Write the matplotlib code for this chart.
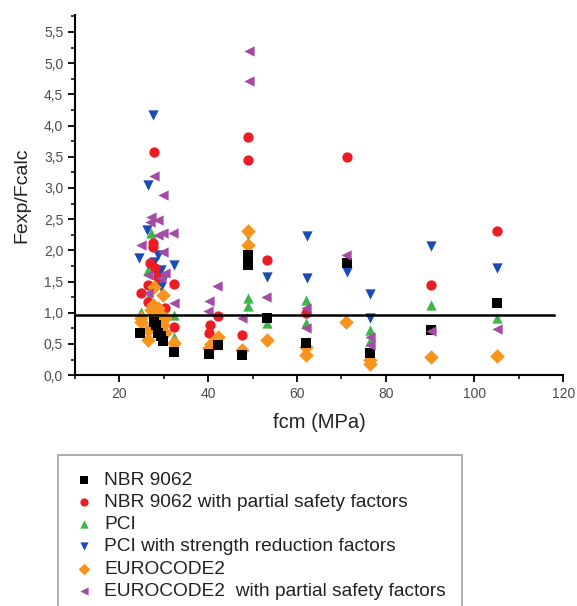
import matplotlib
matplotlib.use("Agg")
import matplotlib.pyplot as plt
from matplotlib.ticker import MultipleLocator, FuncFormatter

plt.rcParams['font.family'] = ['Liberation Sans', 'DejaVu Sans']

# NBR 9062
nbr_x = [24.6, 27.9, 28.3, 28.7, 29.4, 29.8, 32.3, 40.1, 42.2, 47.7, 49.0, 49.0, 53.3, 62.1, 71.2, 76.5, 90.2, 105.1]
nbr_y = [0.67, 0.85, 0.80, 0.67, 0.62, 0.54, 0.37, 0.34, 0.48, 0.32, 1.93, 1.76, 0.92, 0.51, 1.79, 0.35, 0.72, 1.16]

# NBR 9062 with partial safety factors
nbrp_x = [27.9, 27.5, 27.5, 28.0, 28.7, 26.4, 32.3, 24.8, 26.4, 30.2, 32.3, 29.0, 26.8,
          40.4, 40.3, 42.2, 47.7, 49.0, 49.0, 53.3, 62.1, 71.2, 90.2, 105.1]
nbrp_y = [3.57, 2.11, 2.06, 1.71, 1.58, 1.44, 1.46, 1.31, 1.17, 1.07, 0.77, 0.95, 1.80,
          0.80, 0.68, 0.95, 0.64, 3.82, 3.45, 1.84, 0.99, 3.50, 1.44, 2.31]

# PCI
pci_x = [27.2, 26.4, 26.4, 24.9, 28.7, 32.4, 32.4, 29.5, 27.9, 26.8,
         49.0, 49.0, 53.3, 62.1, 62.1, 71.0, 76.5, 76.5, 90.2, 105.1]
pci_y = [2.27, 1.68, 1.23, 1.01, 0.88, 0.96, 0.61, 0.80, 1.00, 1.20,
         1.23, 1.11, 0.84, 1.20, 0.83, 0.90, 0.72, 0.55, 1.13, 0.92]

# PCI with strength reduction factors
pcis_x = [27.5, 26.4, 26.2, 24.5, 28.7, 27.9, 32.3, 29.4, 29.8, 29.4, 28.4,
          49.0, 53.3, 62.3, 62.3, 71.2, 76.5, 76.5, 90.2, 105.1]
pcis_y = [4.17, 3.05, 2.33, 1.87, 1.92, 1.82, 1.76, 1.68, 1.52, 1.42, 1.60,
          2.25, 1.57, 2.23, 1.55, 1.66, 1.30, 0.91, 2.07, 1.71]

# EUROCODE2
ec_x = [27.9, 29.8, 27.5, 28.7, 29.0, 24.9, 28.3, 30.2, 26.4, 30.2, 26.4, 32.3, 29.4, 27.2, 29.8, 24.9,
        40.7, 40.1, 42.3, 47.7, 49.0, 49.0, 53.3, 62.1, 62.1, 71.0, 76.5, 76.5, 90.2, 105.1]
ec_y = [1.42, 1.28, 1.12, 1.08, 1.00, 0.92, 0.95, 0.92, 0.72, 0.67, 0.57, 0.51, 0.85, 1.05, 0.80, 0.85,
        0.50, 0.43, 0.61, 0.40, 2.31, 2.08, 0.57, 0.45, 0.32, 0.85, 0.24, 0.18, 0.29, 0.31]

# EUROCODE2 with partial safety factors
ecp_x = [27.9, 29.8, 27.2, 28.7, 26.8, 28.7, 29.8, 32.0, 24.9, 29.8, 30.2, 26.4, 26.4, 32.3, 29.4,
         39.9, 40.3, 42.0, 47.7, 49.3, 49.3, 53.1, 62.1, 62.1, 71.1, 76.5, 76.5, 90.2, 105.1]
ecp_y = [3.19, 2.88, 2.54, 2.48, 2.46, 2.24, 2.27, 2.27, 2.08, 1.98, 1.63, 1.60, 1.31, 1.15, 1.55,
         1.03, 1.19, 1.43, 0.91, 5.20, 4.71, 1.26, 1.08, 0.76, 1.93, 0.61, 0.48, 0.70, 0.74]

ref_x = [10, 118]
ref_y = 0.97

fig = plt.figure(figsize=(5.77, 6.06), dpi=100)
ax = fig.add_axes([0.130, 0.381, 0.846, 0.594])

ms = 55
ax.scatter(pcis_x, pcis_y, s=ms, marker='v', color='#1b4bb5', linewidths=0, label='PCI with strength reduction factors', zorder=3)
ax.scatter(pci_x, pci_y, s=ms, marker='^', color='#3db54a', linewidths=0, label='PCI', zorder=3)
ax.scatter(nbrp_x, nbrp_y, s=ms, marker='o', color='#ec1c24', linewidths=0, label='NBR 9062 with partial safety factors', zorder=3)
ax.scatter(ec_x, ec_y, s=ms, marker='D', color='#f7941d', linewidths=0, label='EUROCODE2', zorder=3)
ax.scatter(nbr_x, nbr_y, s=ms * 0.8, marker='s', color='black', linewidths=0, label='NBR 9062', zorder=3)
ax.scatter(ecp_x, ecp_y, s=ms, marker='<', color='#a44ba6', linewidths=0, label='EUROCODE2  with partial safety factors', zorder=3)

ax.plot(ref_x, [ref_y, ref_y], color='black', lw=1.8, zorder=4)

ax.set_xlim(10, 120)
ax.set_ylim(0, 5.77)
ax.xaxis.set_major_locator(MultipleLocator(20))
ax.xaxis.set_minor_locator(MultipleLocator(10))
ax.yaxis.set_major_locator(MultipleLocator(0.5))
ax.yaxis.set_minor_locator(MultipleLocator(0.25))
ax.yaxis.set_major_formatter(FuncFormatter(lambda v, p: ('%.1f' % v).replace('.', ',')))

for s in ['top', 'right']:
    ax.spines[s].set_visible(False)
for s in ['left', 'bottom']:
    ax.spines[s].set_linewidth(1.5)
ax.tick_params(which='major', direction='out', length=5, width=1.3, labelsize=10, labelcolor='#4d4d4d')
ax.tick_params(which='minor', direction='out', length=3, width=1.1)

ax.set_xlabel('fcm (MPa)', fontsize=14.5, color='#222222', labelpad=9)
ax.set_ylabel('Fexp/Fcalc', fontsize=14, color='#222222', labelpad=10)

# legend in the original order
h, l = ax.get_legend_handles_labels()
order = ['NBR 9062', 'NBR 9062 with partial safety factors', 'PCI',
         'PCI with strength reduction factors', 'EUROCODE2', 'EUROCODE2  with partial safety factors']
hh = [h[l.index(o)] for o in order]
leg = fig.legend(hh, order, loc='upper left', bbox_to_anchor=(58 / 577, 1 - 455 / 606),
                 frameon=True, fancybox=False, edgecolor='#888888', fontsize=13.8,
                 borderpad=0.85, labelspacing=0.25, handletextpad=0.55, handlelength=1.0,
                 borderaxespad=0, markerscale=0.8)
leg.get_frame().set_linewidth(1.2)
for t in leg.get_texts():
    t.set_color('#222222')

fig.savefig('out.png', dpi=100)
